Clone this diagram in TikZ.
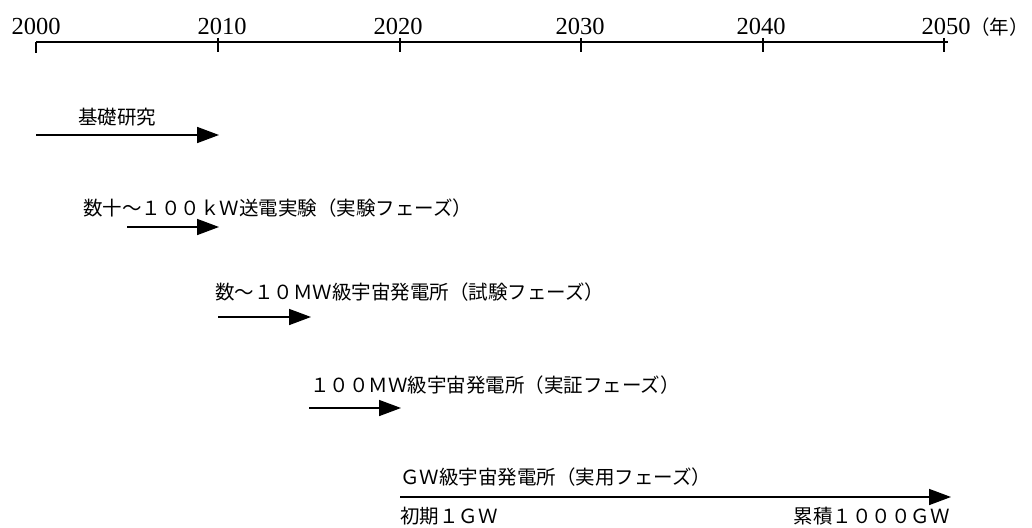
\documentclass[tikz,border=0pt]{standalone}
\usepackage{fontspec}
\newfontfamily\jp{Noto Sans CJK JP}
\newfontfamily\yr{Liberation Serif}
\usetikzlibrary{arrows.meta}
\begin{document}
\begin{tikzpicture}[x=1pt,y=-1pt,
  axisline/.style={line width=1.2pt},
  tickmark/.style={line width=1.2pt},
  yearlbl/.style={anchor=base, inner sep=0pt, font=\yr\fontsize{24.5}{25}\selectfont},
  lbl/.style={anchor=west, inner sep=0pt, font=\jp\fontsize{19.5}{20}\selectfont},
  lble/.style={anchor=east, inner sep=0pt, font=\jp\fontsize{19.5}{20}\selectfont},
  phase/.style={line width=1.6pt, -{Triangle[length=22pt,width=16pt]}},
]
\useasboundingbox (0,0) rectangle (1032,527);
% axis
\coordinate (a0) at (36,42);
\coordinate (aend) at (948,42);
\draw[axisline] (a0) -- (aend);
\coordinate (t0b) at (36,53);
\draw[tickmark] (a0) -- (t0b);
\foreach \x/\n in {218/1,400/2,581/3,763/4,944/5}{
  \coordinate (t\n a) at (\x,38);
  \coordinate (t\n b) at (\x,52);
  \draw[tickmark] (t\n a) -- (t\n b);
}
\node[yearlbl] (y2000) at (36,35) {2000};
\node[yearlbl] (y2010) at (222,35) {2010};
\node[yearlbl] (y2020) at (398,35) {2020};
\node[yearlbl] (y2030) at (580,35) {2030};
\node[yearlbl] (y2040) at (761,35) {2040};
\node[yearlbl] (y2050) at (946,35) {2050};
\node[anchor=base west, inner sep=0pt, font=\jp\fontsize{19.5}{20}\selectfont] (nen) at (970,35) {（年）};

% row 1
\node[lbl] (l1) at (78,117) {基礎研究};
\coordinate (s1) at (36,135); \coordinate (e1) at (219,135);
\draw[phase] (s1) -- (e1);
% row 2
\node[lbl] (l2) at (83,208) {数十～１００ｋＷ送電実験（実験フェーズ）};
\coordinate (s2) at (127,227); \coordinate (e2) at (219,227);
\draw[phase] (s2) -- (e2);
% row 3
\node[lbl] (l3) at (215,292) {数～１０ＭＷ級宇宙発電所（試験フェーズ）};
\coordinate (s3) at (218,317); \coordinate (e3) at (311,317);
\draw[phase] (s3) -- (e3);
% row 4
\node[lbl] (l4) at (310,385) {１００ＭＷ級宇宙発電所（実証フェーズ）};
\coordinate (s4) at (309,408); \coordinate (e4) at (401,408);
\draw[phase] (s4) -- (e4);
% row 5
\node[lbl] (l5) at (400,477) {ＧＷ級宇宙発電所（実用フェーズ）};
\coordinate (s5) at (400,497); \coordinate (e5) at (951,497);
\draw[phase] (s5) -- (e5);
\node[lbl] (b1) at (400,516) {初期１ＧＷ};
\node[lble] (b2) at (950,516) {累積１０００ＧＷ};
\end{tikzpicture}
\end{document}
